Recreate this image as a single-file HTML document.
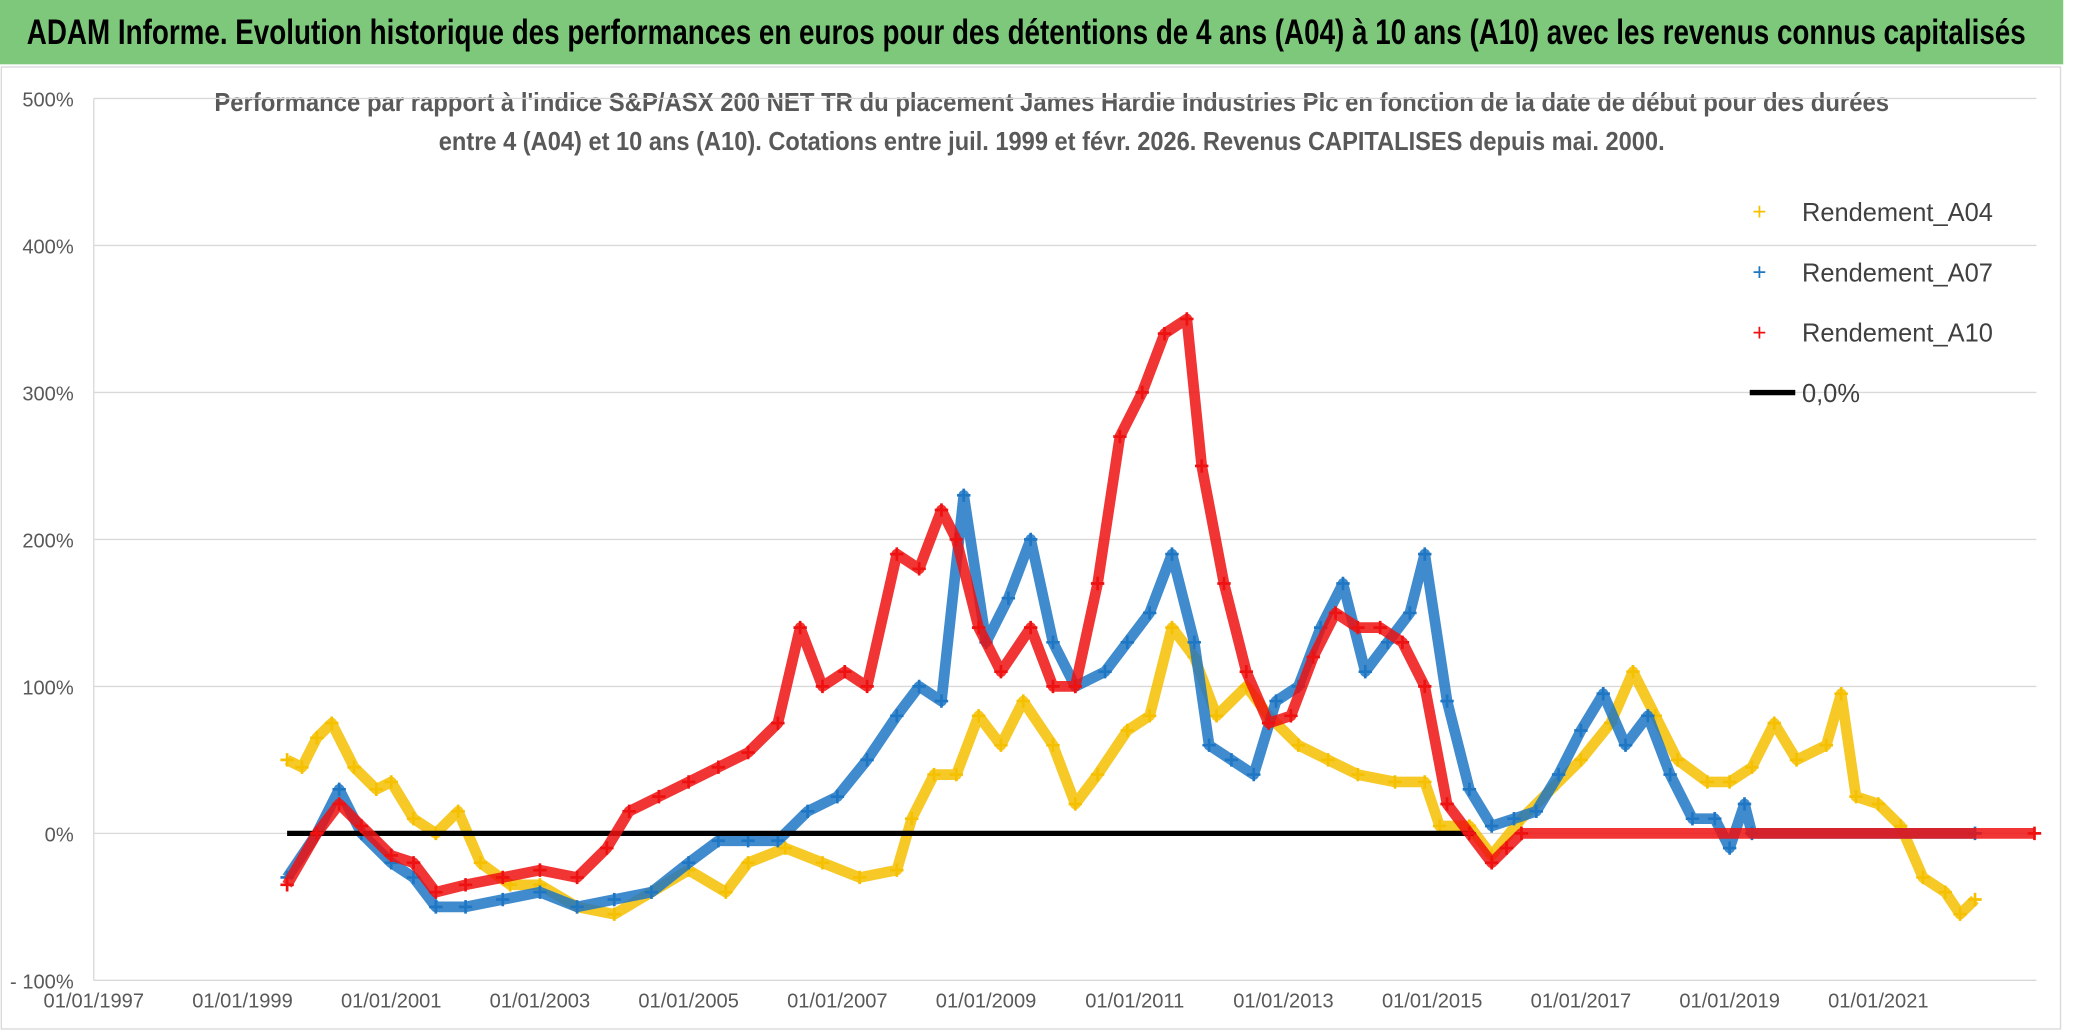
<!DOCTYPE html>
<html><head><meta charset="utf-8"><style>
html,body{margin:0;padding:0;background:#fff;}
svg{display:block;font-family:"Liberation Sans",sans-serif;}
</style></head><body>
<svg id="chart" width="2086" height="1031" viewBox="0 0 1557 769.5" preserveAspectRatio="none">
<rect x="0" y="0" width="1557" height="770" fill="#fff"/>
<rect x="0" y="0" width="1540" height="48" fill="#7dc87b"/>
<text x="20" y="33" font-size="26" font-weight="bold" fill="#000" textLength="1492" lengthAdjust="spacingAndGlyphs">ADAM Informe. Evolution historique des performances en euros pour des détentions de 4 ans (A04) à 10 ans (A10) avec les revenus connus capitalisés</text>
<rect x="1" y="50" width="1537" height="718" fill="none" stroke="#d9d9d9"/>
<text x="785" y="83" text-anchor="middle" font-size="19" font-weight="bold" fill="#595959" textLength="1250" lengthAdjust="spacingAndGlyphs">Performance par rapport à l'indice S&amp;P/ASX 200 NET TR  du placement James Hardie Industries Plc en fonction de la date de début pour des durées</text>
<text x="785" y="112" text-anchor="middle" font-size="19" font-weight="bold" fill="#595959" textLength="915" lengthAdjust="spacingAndGlyphs">entre 4 (A04) et 10 ans (A10). Cotations entre juil. 1999 et févr. 2026. Revenus CAPITALISES depuis mai. 2000.</text>
<g id="grid"></g><g id="series"></g><g id="axes"></g>
<g>
<text x="1308" y="164" font-size="18" fill="#f5c000">+</text>
<text x="1345" y="165" font-size="19" fill="#404040">Rendement_A04</text>
<text x="1308" y="209" font-size="18" fill="#1f77c4">+</text>
<text x="1345" y="210" font-size="19" fill="#404040">Rendement_A07</text>
<text x="1308" y="254" font-size="18" fill="#ee1111">+</text>
<text x="1345" y="255" font-size="19" fill="#404040">Rendement_A10</text>
<line x1="1306" y1="293" x2="1340" y2="293" stroke="#000" stroke-width="4"/>
<text x="1345" y="300" font-size="19" fill="#404040">0,0%</text>
</g>
</svg>
<script>
const yTicks=[500,400,300,200,100,0,-100];
const yTickLabels=["500%","400%","300%","200%","100%","0%","- 100%"];
const xTicks=[1997,1999,2001,2003,2005,2007,2009,2011,2013,2015,2017,2019,2021];
const xTickLabels=xTicks.map(y=>"01/01/"+y);
const a04Dates=[1999.6,1999.8,2000.0,2000.2,2000.5,2000.8,2001.0,2001.3,2001.6,2001.9,2002.2,2002.6,2003.0,2003.5,2004.0,2004.5,2005.0,2005.5,2005.8,2006.3,2006.8,2007.3,2007.8,2008.0,2008.3,2008.6,2008.9,2009.2,2009.5,2009.9,2010.2,2010.5,2010.9,2011.2,2011.5,2011.8,2012.1,2012.5,2012.8,2013.2,2013.6,2014.0,2014.5,2014.9,2015.1,2015.5,2015.8,2016.2,2016.6,2017.0,2017.4,2017.7,2018.0,2018.3,2018.7,2019.0,2019.3,2019.6,2019.9,2020.3,2020.5,2020.7,2021.0,2021.3,2021.6,2021.9,2022.1,2022.3];
const a04Values=[50,45,65,75,45,30,35,10,0,15,-20,-35,-35,-50,-55,-40,-25,-40,-20,-10,-20,-30,-25,10,40,40,80,60,90,60,20,40,70,80,140,120,80,100,80,60,50,40,35,35,5,5,-15,10,30,50,75,110,80,50,35,35,45,75,50,60,95,25,20,5,-30,-40,-55,-45];
const a07Dates=[1999.6,2000.0,2000.3,2000.6,2001.0,2001.3,2001.6,2002.0,2002.5,2003.0,2003.5,2004.0,2004.5,2005.0,2005.4,2005.8,2006.2,2006.6,2007.0,2007.4,2007.8,2008.1,2008.4,2008.7,2009.0,2009.3,2009.6,2009.9,2010.2,2010.6,2010.9,2011.2,2011.5,2011.8,2012.0,2012.3,2012.6,2012.9,2013.2,2013.5,2013.8,2014.1,2014.4,2014.7,2014.9,2015.2,2015.5,2015.8,2016.1,2016.4,2016.7,2017.0,2017.3,2017.6,2017.9,2018.2,2018.5,2018.8,2019.0,2019.2,2019.3,2022.3];
const a07Values=[-30,0,30,0,-20,-30,-50,-50,-45,-40,-50,-45,-40,-20,-5,-5,-5,15,25,50,80,100,90,230,130,160,200,130,100,110,130,150,190,130,60,50,40,90,100,140,170,110,130,150,190,90,30,5,10,15,40,70,95,60,80,40,10,10,-10,20,0,0];
const a10Dates=[1999.6,2000.0,2000.3,2000.6,2001.0,2001.3,2001.6,2002.0,2002.5,2003.0,2003.5,2003.9,2004.2,2004.6,2005.0,2005.4,2005.8,2006.2,2006.5,2006.8,2007.1,2007.4,2007.8,2008.1,2008.4,2008.6,2008.9,2009.2,2009.6,2009.9,2010.2,2010.5,2010.8,2011.1,2011.4,2011.7,2011.9,2012.2,2012.5,2012.8,2013.1,2013.4,2013.7,2014.0,2014.3,2014.6,2014.9,2015.2,2015.5,2015.8,2016.0,2016.2,2023.1];
const a10Values=[-35,0,20,5,-15,-20,-40,-35,-30,-25,-30,-10,15,25,35,45,55,75,140,100,110,100,190,180,220,200,140,110,140,100,100,170,270,300,340,350,250,170,110,75,80,120,150,140,140,130,100,20,0,-20,-10,0,0];
const zeroStart=1999.6, zeroEnd=2015.56;
const NS="http://www.w3.org/2000/svg";
const X0=70,PX_PER_YEAR=55.5,Y0=622,PX_PER_PCT=1.097,PLOT_RIGHT=1520;
const xs=d=>X0+(d-1997)*PX_PER_YEAR;
const ys=v=>Y0-v*PX_PER_PCT;
function mk(tag,attrs,parent){const e=document.createElementNS(NS,tag);for(const k in attrs)e.setAttribute(k,attrs[k]);parent.appendChild(e);return e;}
const grid=document.getElementById('grid'),axes=document.getElementById('axes'),series=document.getElementById('series');
yTicks.forEach((t,i)=>{
  const l=mk('line',{x1:X0,x2:PLOT_RIGHT,y1:ys(t),y2:ys(t),stroke:'#d9d9d9','stroke-width':1},grid);
  
  
  const tx=mk('text',{x:55,y:ys(t)+6,'text-anchor':'end','font-size':15,fill:'#595959'},axes);
  tx.textContent=yTickLabels[i];
  
  
});
const ax=mk('line',{x1:X0,x2:X0,y1:ys(500),y2:ys(-100),stroke:'#d9d9d9'},grid);


xTicks.forEach((t,i)=>{
  const tx=mk('text',{x:xs(t),y:752,'text-anchor':'middle','font-size':15,fill:'#595959'},axes);
  tx.textContent=xTickLabels[i];
  
  
});
function drawSeries(dates,vals,color,name){
  const g=mk('g',{},series);
  
  
  const pts=dates.map((d,i)=>xs(d)+','+ys(vals[i])).join(' ');
  mk('polyline',{points:pts,fill:'none',stroke:color,'stroke-width':8,'stroke-linejoin':'round','stroke-opacity':0.85},g);
  dates.forEach((d,i)=>{
    const x=xs(d),y=ys(vals[i]);
    const p=mk('path',{d:`M${x-5},${y}H${x+5}M${x},${y-5}V${y+5}`,stroke:color,'stroke-width':2},g);
    
    
  });
}
drawSeries(a04Dates,a04Values,'#f5c000','series-a04');
drawSeries(a07Dates,a07Values,'#1f77c4','series-a07');
const zl=mk('line',{x1:xs(zeroStart),x2:xs(zeroEnd),y1:ys(0),y2:ys(0),stroke:'#000','stroke-width':4},series);


drawSeries(a10Dates,a10Values,'#ee1111','series-a10');
</script>
</body></html>
